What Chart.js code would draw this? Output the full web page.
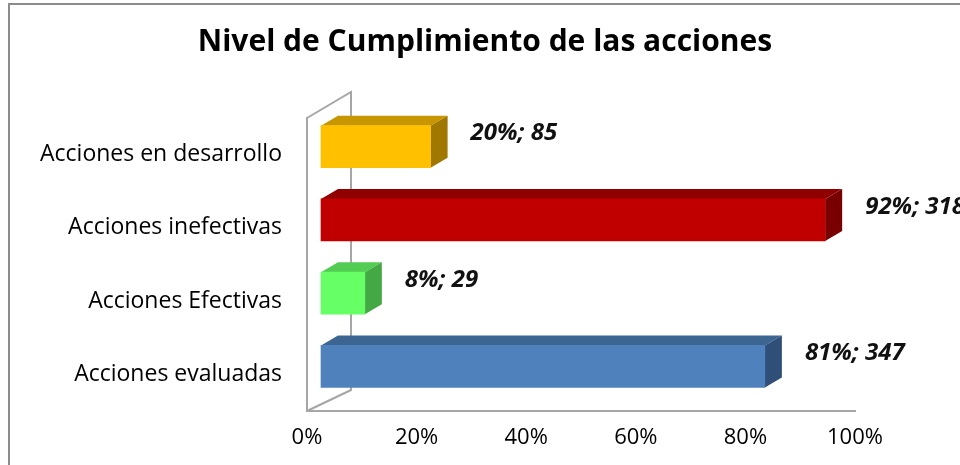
<!DOCTYPE html>
<html>
<head>
<meta charset="utf-8">
<script src="https://cdn.jsdelivr.net/npm/chart.js@4.4.1/dist/chart.umd.min.js"></script>
<style>
    html, body { margin: 0; padding: 0; background: #fff; }
    #contenedor { width: 960px; height: 465px; }
</style>
</head>
<body>
<div id="contenedor"><canvas id="graficoAcciones"></canvas></div>
<script>
// Datos
var categorias = ['Acciones en desarrollo', 'Acciones inefectivas', 'Acciones Efectivas', 'Acciones evaluadas'];
var porcentajes = [20, 92, 8, 81];
var cantidades = [85, 318, 29, 347];
var ticksX = [0, 20, 40, 60, 80, 100];
var titulo = 'Nivel de Cumplimiento de las acciones';

// Colores de cada cara de las barras
var colorFrente = ['#ffc000', '#c00000', '#66ff66', '#4f81bd'];
var colorArriba = ['#c89600', '#900000', '#52cc52', '#3d6591'];
var colorLado = ['#a07800', '#780000', '#44a844', '#2f4f78'];

var fuente = "'Open Sans', 'DejaVu Sans', sans-serif";

// Efecto 3D: paredes, caras de las barras, etiquetas y título
var efecto3d = {
    id: 'efecto3d',
    beforeDraw: function (chart) {
        var ctx = chart.ctx
        ctx.save()
        ctx.strokeStyle = '#8c8c8c'
        ctx.lineWidth = 2
        ctx.beginPath()
        ctx.moveTo(9, chart.height)
        ctx.lineTo(9, 4)
        ctx.lineTo(chart.width, 4)
        ctx.stroke()
        ctx.fillStyle = '#000'
        ctx.font = "bold 30px " + fuente
        ctx.textAlign = 'center'
        ctx.textBaseline = 'middle'
        ctx.fillText(titulo, 485, 42)
        ctx.restore()
    },
    beforeDatasetsDraw: function (chart) {
        var ctx = chart.ctx
        var a = chart.chartArea
        ctx.save()
        ctx.strokeStyle = '#a6a6a6'
        ctx.lineWidth = 2
        ctx.beginPath()
        ctx.moveTo(a.left, a.top)
        ctx.lineTo(a.left + 44, a.top - 26)
        ctx.lineTo(a.left + 44, a.bottom - 21)
        ctx.lineTo(a.left, a.bottom)
        ctx.stroke()
        ctx.restore()

        ctx.save()
        ctx.translate(14, -8)
        chart.getDatasetMeta(0).data.forEach(function (barra, i) {
            var p = barra.getProps(['x', 'y', 'base', 'height'], true)
            var arriba = p.y - p.height / 2
            var abajo = p.y + p.height / 2
            ctx.fillStyle = colorArriba[i]
            ctx.beginPath()
            ctx.moveTo(p.base, arriba)
            ctx.lineTo(p.base + 17, arriba - 10)
            ctx.lineTo(p.x + 17, arriba - 10)
            ctx.lineTo(p.x, arriba)
            ctx.closePath()
            ctx.fill()
            ctx.fillStyle = colorLado[i]
            ctx.beginPath()
            ctx.moveTo(p.x, arriba)
            ctx.lineTo(p.x + 17, arriba - 10)
            ctx.lineTo(p.x + 17, abajo - 10)
            ctx.lineTo(p.x, abajo)
            ctx.closePath()
            ctx.fill()
        })
    },
    afterDatasetsDraw: function (chart) {
        var ctx = chart.ctx
        ctx.restore()
        ctx.save()
        ctx.fillStyle = '#111'
        ctx.font = "italic bold 24px " + fuente
        ctx.textAlign = 'left'
        ctx.textBaseline = 'middle'
        chart.getDatasetMeta(0).data.forEach(function (barra, i) {
            var p = barra.getProps(['x', 'y'], true)
            ctx.fillText(porcentajes[i] + '%; ' + cantidades[i], p.x + 54, p.y - 21)
        })
        ctx.restore()
    }
}

var ctx = document.getElementById('graficoAcciones');

var graficoAcciones = new Chart(ctx, {
    type: 'bar',
    data: {
        labels: categorias,
        datasets: [{
            data: porcentajes,
            backgroundColor: colorFrente,
            barThickness: 42,
            clip: false
        }]
    },
    options: {
        indexAxis: 'y',
        responsive: true,
        maintainAspectRatio: false,
        animation: false,
        layout: {
            padding: { left: 0, right: 105, top: 118 }
        },
        plugins: {
            legend: { display: false },
            tooltip: { enabled: false },
            title: { display: false }
        },
        scales: {
            x: {
                min: 0,
                max: 100,
                afterBuildTicks: function (s) {
                    s.ticks = ticksX.map(function (v) { return { value: v } })
                },
                ticks: {
                    color: '#000',
                    font: { family: fuente, size: 22 },
                    padding: 14,
                    callback: function (v) { return v + '%' }
                },
                grid: { display: false, drawTicks: false },
                border: { display: true, color: '#a6a6a6', width: 2 },
                afterFit: function (s) { s.height = 54 }
            },
            y: {
                ticks: {
                    color: '#000',
                    font: { family: fuente, size: 23 },
                    padding: 25
                },
                grid: { display: false, drawTicks: false },
                border: { display: true, color: '#a6a6a6', width: 2 },
                afterFit: function (s) { s.width = 307 }
            }
        }
    },
    plugins: [efecto3d]
});
</script>
</body>
</html>
